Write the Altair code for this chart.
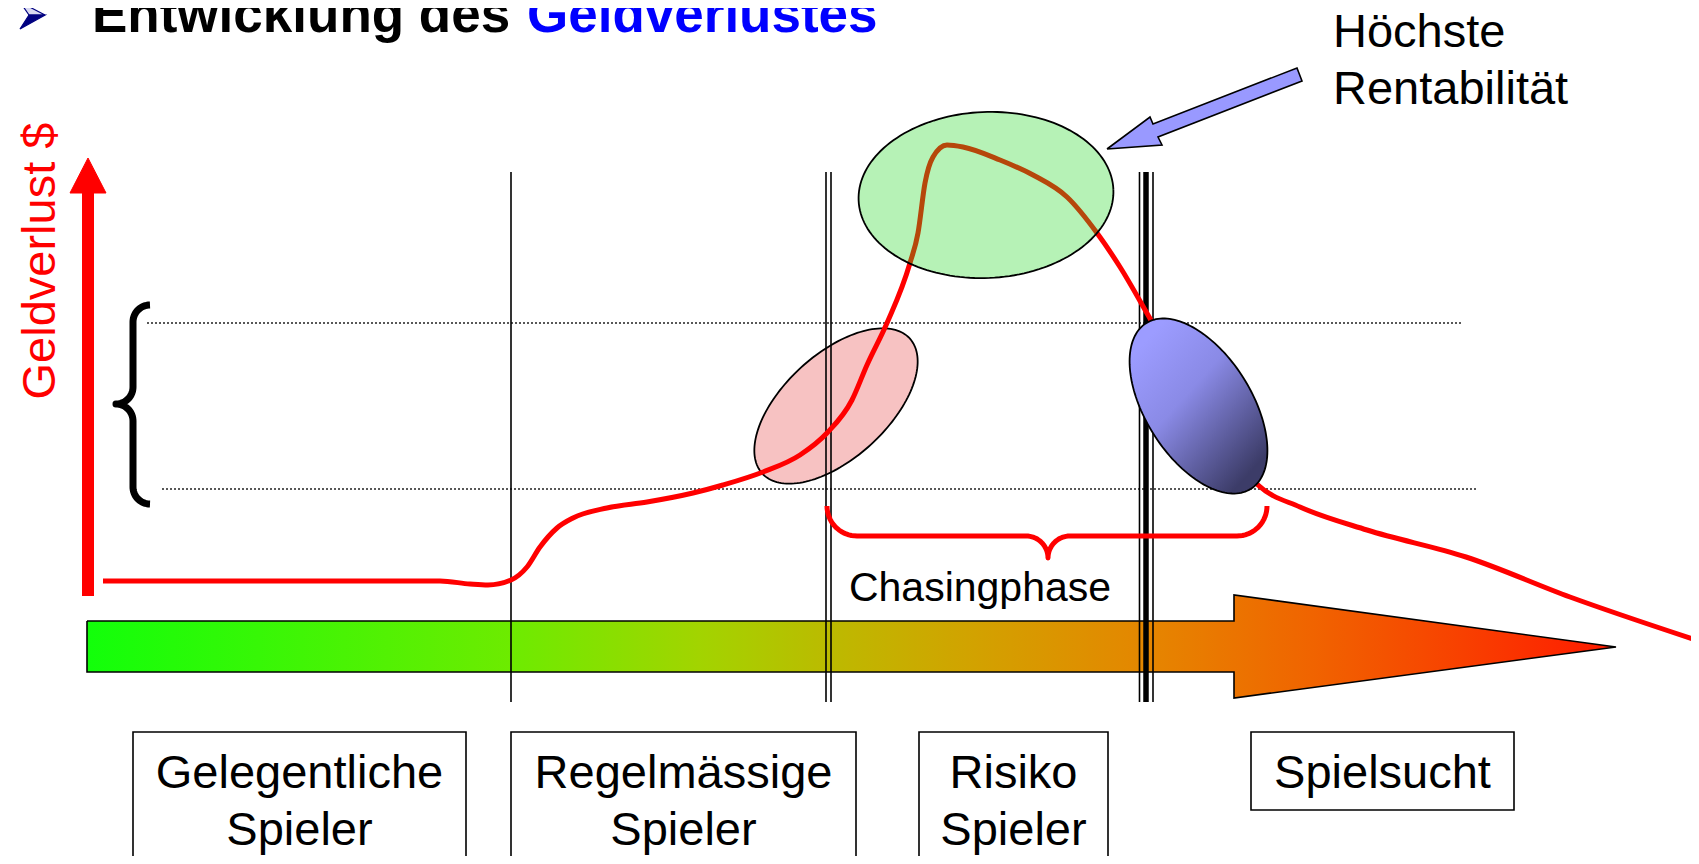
import numpy as np
import pandas as pd
import altair as alt

# ---------------------------------------------------------------
# Canvas: data units are pixels of the reference picture
# ---------------------------------------------------------------
W, H = 1683, 848
X0, Y0 = 8, 8
FONT = "Liberation Sans"

# ---------------------------------------------------------------
# Data
# ---------------------------------------------------------------
title_parts = ["Entwicklung des ", "Geldverlustes"]
title_x = [92, 527]
title_colors = ["#000000", "#0000FF"]
title_y = [32, 32]

axis_label = ["Geldverlust $"]

pointer_label = ["Höchste", "Rentabilität"]
pointer_label_y = [47, 104]

chasing_label = ["Chasingphase"]

phase_line1 = ["Gelegentliche", "Regelmässige", "Risiko", "Spielsucht"]
phase_line2 = ["Spieler", "Spieler", "Spieler", ""]
box_x1 = [133, 511, 919, 1251]
box_x2 = [466, 856, 1108, 1514]
box_y1 = [732, 732, 732, 732]
box_y2 = [880, 880, 880, 810]

sep_thin_x = [511, 826, 831, 1139.5, 1153]
sep_thick_x = [1146]
sep_top, sep_bottom = 172, 702

band_y = [323, 489]
band_x1 = [147, 162]
band_x2 = [1462, 1477]

# money-loss curve
curve_x = [103, 250, 440, 470, 488, 511, 527, 540, 557, 573, 607, 647, 693, 723,
           763, 800, 827, 852, 867, 887, 910, 918, 925, 933, 947, 963, 1000, 1033,
           1067, 1097, 1120, 1152, 1180, 1215, 1240, 1258, 1300, 1367, 1466, 1570, 1699]
curve_y = [581, 581, 581, 584, 585, 580, 567, 547, 528, 518, 508, 502, 493, 485,
           472, 455, 433, 400, 365, 323, 263, 233, 183, 157, 145, 147, 160, 175,
           197, 233, 267, 322, 370, 430, 465, 485, 507, 530, 557, 597, 641]

# big gradient arrow (progression), outline
prog_x = [87, 1234, 1234, 1616, 1234, 1234, 87, 87]
prog_y = [621, 621, 595, 647, 698, 672, 672, 621]

# red vertical axis arrow
yarrow_shaft = dict(x1=82, x2=94, y1=193, y2=596)
yarrow_head_x = [70, 88, 106, 70]
yarrow_head_y = [193, 158, 193, 193]

# blue pointer arrow
pointer_x = [1107, 1150, 1153, 1297, 1302, 1158, 1162, 1107]
pointer_y = [149, 117, 124, 68, 81, 137, 145, 149]

# bullet
bullet_up_x = [20, 45, 29, 20]
bullet_up_y = [2, 15, 15, 2]
bullet_lo_x = [29, 45, 20, 29]
bullet_lo_y = [15, 15, 29, 15]

# ellipses: centre x, centre y, semi-major, semi-minor, tilt (deg)
green_ell = (986, 195, 127.5, 83, -2.5)
pink_ell = (836, 406, 100, 52, -42.5)
blue_ell = (1198.5, 406, 98, 53, 57.7)

# brace geometry: (centre x, centre y, radius, start angle, end angle)
black_brace_arcs = [(150, 322, 17, -90, -180), (116, 387, 17, 0, 90),
                    (116, 421, 17, -90, 0), (150, 487, 17, 180, 90)]
red_brace_arcs = [(857, 506, 30, 180, 90), (1026, 558, 22, -90, 0),
                  (1070, 558, 22, 180, 270), (1237, 506, 30, 90, 0)]

# ---------------------------------------------------------------
# helpers
# ---------------------------------------------------------------
xs = alt.Scale(domain=[X0, X0 + W], nice=False, zero=False)
ys = alt.Scale(domain=[Y0, Y0 + H], nice=False, zero=False, reverse=True)


def X(f="x"):
    return alt.X(f"{f}:Q", scale=xs, axis=None)


def Y(f="y"):
    return alt.Y(f"{f}:Q", scale=ys, axis=None, stack=None)


def ellipse_df(p, n=160):
    cx, cy, a, b, ang = p
    t = np.linspace(0, 2 * np.pi, n + 1)
    th = np.deg2rad(ang)
    ex, ey = a * np.cos(t), b * np.sin(t)
    return pd.DataFrame({"x": cx + ex * np.cos(th) - ey * np.sin(th),
                         "y": cy + ex * np.sin(th) + ey * np.cos(th),
                         "i": np.arange(n + 1)})


def arcs_df(arcs, n=18):
    xs_, ys_ = [], []
    for cx, cy, r, t0, t1 in arcs:
        t = np.deg2rad(np.linspace(t0, t1, n))
        xs_.extend(cx + r * np.cos(t))
        ys_.extend(cy + r * np.sin(t))
    return pd.DataFrame({"x": xs_, "y": ys_, "i": np.arange(len(xs_))})


def poly(df, **mark):
    return alt.Chart(df).mark_line(**mark).encode(x=X(), y=Y(), order="i:Q")


def pts(xv, yv):
    return pd.DataFrame({"x": xv, "y": yv, "i": range(len(xv))})


# ---------------------------------------------------------------
# layers
# ---------------------------------------------------------------
bands = alt.Chart(pd.DataFrame({"x": band_x1, "x2": band_x2, "y": band_y})).mark_rule(
    color="#222222", strokeWidth=1.6, strokeDash=[2, 2]
).encode(x=X(), x2="x2:Q", y=Y())

progress = poly(pts(prog_x, prog_y), fill=alt.LinearGradient(
    gradient="linear", x1=0, x2=1, y1=0, y2=0,
    stops=[alt.GradientStop(color="#12FF0A", offset=0),
           alt.GradientStop(color="#6EEB00", offset=0.28),
           alt.GradientStop(color="#A2D400", offset=0.40),
           alt.GradientStop(color="#C0B600", offset=0.50),
           alt.GradientStop(color="#D2A200", offset=0.58),
           alt.GradientStop(color="#E68400", offset=0.70),
           alt.GradientStop(color="#F06400", offset=0.80),
           alt.GradientStop(color="#F84000", offset=0.90),
           alt.GradientStop(color="#FF1A00", offset=1)]),
    stroke="black", strokeWidth=1.6, strokeJoin="miter")

pink = poly(ellipse_df(pink_ell), fill="#F7C2C2", stroke="black", strokeWidth=1.8)

seps_thin = alt.Chart(pd.DataFrame({"x": sep_thin_x, "y": sep_top, "y2": sep_bottom})).mark_rule(
    color="black", strokeWidth=1.6).encode(x=X(), y=Y(), y2="y2:Q")
seps_thick = alt.Chart(pd.DataFrame({"x": sep_thick_x, "y": sep_top, "y2": sep_bottom})).mark_rule(
    color="black", strokeWidth=5.5).encode(x=X(), y=Y(), y2="y2:Q")

yshaft = alt.Chart(pd.DataFrame({"x": [yarrow_shaft["x1"]], "x2": [yarrow_shaft["x2"]],
                                 "y": [yarrow_shaft["y1"]], "y2": [yarrow_shaft["y2"]]})).mark_rect(
    color="#FF0000").encode(x=X(), x2="x2:Q", y=Y(), y2="y2:Q")
yhead = poly(pts(yarrow_head_x, yarrow_head_y), fill="#FF0000", stroke="#FF0000", strokeWidth=1)

curve = alt.Chart(pd.DataFrame({"x": curve_x, "y": curve_y, "i": range(len(curve_x))})).mark_line(
    color="#FF0000", strokeWidth=5, interpolate="monotone"
).encode(x=X(), y=Y(), order="i:Q")

green = poly(ellipse_df(green_ell), fill="#22D822", fillOpacity=0.33, stroke="black", strokeWidth=1.8)

blue = poly(ellipse_df(blue_ell), fill=alt.LinearGradient(
    gradient="linear", x1=0.15, y1=0.1, x2=0.85, y2=0.9,
    stops=[alt.GradientStop(color="#9C9CFF", offset=0),
           alt.GradientStop(color="#8A8AE6", offset=0.4),
           alt.GradientStop(color="#3C3C68", offset=1)]),
    stroke="black", strokeWidth=1.8)

red_brace = poly(arcs_df(red_brace_arcs), color="#FF0000", strokeWidth=5,
                 strokeCap="butt", strokeJoin="round")
black_brace = poly(arcs_df(black_brace_arcs), color="black", strokeWidth=7,
                   strokeCap="butt", strokeJoin="round")

pointer = poly(pts(pointer_x, pointer_y), fill="#9999FF", stroke="black", strokeWidth=1.6)

bullet_up = poly(pts(bullet_up_x, bullet_up_y), fill="#D8D8F0", stroke="#000080", strokeWidth=1.2)
bullet_lo = poly(pts(bullet_lo_x, bullet_lo_y), fill="#000080", stroke="#000080", strokeWidth=1.2)

boxes = alt.Chart(pd.DataFrame({"x": box_x1, "x2": box_x2, "y": box_y1, "y2": box_y2})).mark_rect(
    fill="white", stroke="black", strokeWidth=1.6).encode(x=X(), x2="x2:Q", y=Y(), y2="y2:Q")

box_cx = [(a + b) / 2 for a, b in zip(box_x1, box_x2)]
box_text = alt.Chart(pd.DataFrame({
    "x": box_cx + box_cx,
    "y": [788] * 4 + [845] * 4,
    "t": phase_line1 + phase_line2})).mark_text(
    font=FONT, fontSize=47, align="center", baseline="alphabetic", color="black"
).encode(x=X(), y=Y(), text="t:N")

title = alt.Chart(pd.DataFrame({"x": title_x, "y": title_y, "t": title_parts,
                                "c": title_colors})).mark_text(
    font=FONT, fontSize=53, fontWeight="bold", align="left", baseline="alphabetic"
).encode(x=X(), y=Y(), text="t:N", color=alt.Color("c:N", scale=None))

ylabel = alt.Chart(pd.DataFrame({"x": [55], "y": [261], "t": axis_label})).mark_text(
    font=FONT, fontSize=47, align="center", baseline="alphabetic", angle=270, color="#FF0000"
).encode(x=X(), y=Y(), text="t:N")

plabel = alt.Chart(pd.DataFrame({"x": [1333, 1333], "y": pointer_label_y, "t": pointer_label})).mark_text(
    font=FONT, fontSize=47, align="left", baseline="alphabetic", color="black"
).encode(x=X(), y=Y(), text="t:N")

clabel = alt.Chart(pd.DataFrame({"x": [980], "y": [601], "t": chasing_label})).mark_text(
    font=FONT, fontSize=41, align="center", baseline="alphabetic", color="black"
).encode(x=X(), y=Y(), text="t:N")

chart = alt.layer(
    bands, progress, pink, seps_thin, seps_thick, yshaft, yhead, curve, green, blue,
    red_brace, black_brace, pointer, bullet_up, bullet_lo, boxes, box_text, title,
    ylabel, plabel, clabel
).properties(
    width=W, height=H, padding=0, background="white",
    autosize=alt.AutoSizeParams(type="none")
).configure_view(strokeWidth=0)

chart.save("out.html", embed_options={"renderer": "svg", "actions": False})
